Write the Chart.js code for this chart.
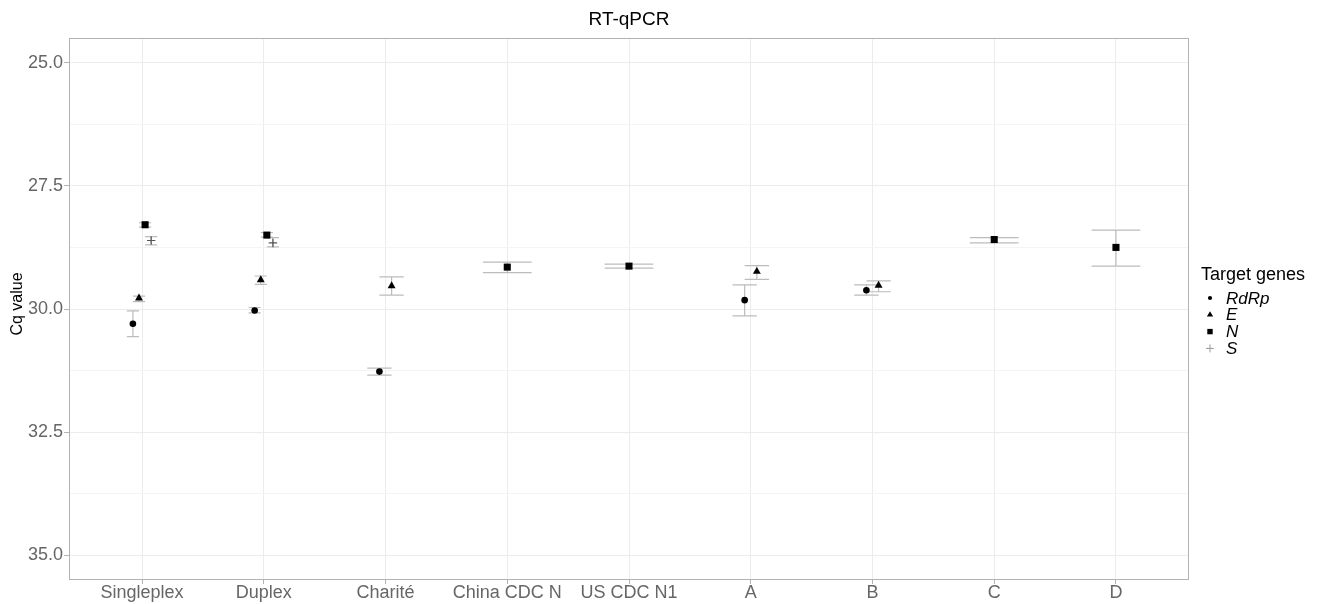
<!DOCTYPE html>
<html>
<head>
<meta charset="utf-8">
<script src="https://cdn.jsdelivr.net/npm/chart.js@4"></script>
<style>
  body { margin: 0; background: #fff; }
  #wrap { width: 1327px; height: 604px; }
</style>
</head>
<body>
<div id="wrap"><canvas id="chart" width="1327" height="604"></canvas></div>
<script>
// assays on the x axis
const categories = ['Singleplex', 'Duplex', 'Charité', 'China CDC N', 'US CDC N1', 'A', 'B', 'C', 'D'];
const genes = ['RdRp', 'E', 'N', 'S'];
const yTicks = [25, 26.25, 27.5, 28.75, 30, 31.25, 32.5, 33.75, 35];

// mean Cq and error bar ends per gene (null = not measured)
const rdrpMean = [30.30, 30.03, 31.27, null, null, 29.82, 29.62, null, null];
const rdrpLow  = [30.04, 29.97, 31.20, null, null, 29.51, 29.51, null, null];
const rdrpHigh = [30.56, 30.08, 31.34, null, null, 30.14, 29.72, null, null];

const eMean = [29.78, 29.41, 29.53, null, null, 29.24, 29.52, null, null];
const eLow  = [29.74, 29.33, 29.35, null, null, 29.12, 29.43, null, null];
const eHigh = [29.85, 29.50, 29.72, null, null, 29.40, 29.65, null, null];

const nMean = [28.29, 28.50, null, 29.15, 29.13, null, null, 28.59, 28.75];
const nLow  = [28.25, 28.45, null, 29.05, 29.09, null, null, 28.55, 28.40];
const nHigh = [28.34, 28.54, null, 29.26, 29.17, null, null, 28.66, 29.13];

const sMean = [28.61, 28.66, null, null, null, null, null, null, null];
const sLow  = [28.53, 28.55, null, null, null, null, null, null, null];
const sHigh = [28.70, 28.74, null, null, null, null, null, null, null];

const means = [rdrpMean, eMean, nMean, sMean];
const lows = [rdrpLow, eLow, nLow, sLow];
const highs = [rdrpHigh, eHigh, nHigh, sHigh];

const styles = [
    { pointStyle: 'circle', radius: 3.3, color: '#000', border: 0 },
    { pointStyle: 'triangle', radius: 4.6, color: '#000', border: 0 },
    { pointStyle: 'rect', radius: 5, color: '#000', border: 0 },
    { pointStyle: 'cross', radius: 4.2, color: '#555', border: 1.2 }
];

const DODGE = 0.2, BAR_W = 0.4;
const FONT = '"Liberation Sans", Arial, sans-serif';

// ggplot-like dodge: which genes exist at each category
function dodgeInfo(ci, gi) {
    const present = [];
    for (let g = 0; g < genes.length; g++) if (means[g][ci] !== null) present.push(g);
    const n = present.length;
    const k = present.indexOf(gi);
    return { offset: (k - (n - 1) / 2) * DODGE / n, half: BAR_W / n / 2 };
}

const datasets = genes.map((gene, gi) => {
    const pts = [];
    categories.forEach((c, ci) => {
        if (means[gi][ci] === null) return;
        const d = dodgeInfo(ci, gi);
        pts.push({ x: ci + d.offset, y: means[gi][ci], lo: lows[gi][ci], hi: highs[gi][ci], half: d.half });
    });
    const st = styles[gi];
    return {
        label: gene,
        data: pts,
        pointStyle: st.pointStyle,
        pointRadius: st.radius,
        pointHoverRadius: st.radius,
        backgroundColor: st.color,
        borderColor: st.color,
        borderWidth: st.border
    };
});

const errorBars = {
    id: 'errorBars',
    beforeDatasetsDraw(chart) {
        const ctx = chart.ctx, xs = chart.scales.x, ys = chart.scales.y;
        ctx.save();
        ctx.strokeStyle = '#bcbcbc';
        ctx.lineWidth = 1.2;
        chart.data.datasets.forEach(ds => {
            ds.data.forEach(p => {
                const x = xs.getPixelForValue(p.x);
                const x0 = xs.getPixelForValue(p.x - p.half);
                const x1 = xs.getPixelForValue(p.x + p.half);
                const y0 = ys.getPixelForValue(p.lo);
                const y1 = ys.getPixelForValue(p.hi);
                ctx.beginPath();
                ctx.moveTo(x, y0); ctx.lineTo(x, y1);
                ctx.moveTo(x0, y0); ctx.lineTo(x1, y0);
                ctx.moveTo(x0, y1); ctx.lineTo(x1, y1);
                ctx.stroke();
            });
        });
        ctx.restore();
    }
};

function drawSymbol(ctx, style, x, y, r) {
    ctx.beginPath();
    if (style === 'circle') {
        ctx.arc(x, y, r, 0, Math.PI * 2);
        ctx.fill();
    } else if (style === 'triangle') {
        ctx.moveTo(x, y - r);
        ctx.lineTo(x + r * 0.866, y + r * 0.5);
        ctx.lineTo(x - r * 0.866, y + r * 0.5);
        ctx.closePath();
        ctx.fill();
    } else if (style === 'rect') {
        ctx.rect(x - r, y - r, 2 * r, 2 * r);
        ctx.fill();
    } else {
        ctx.moveTo(x - r, y); ctx.lineTo(x + r, y);
        ctx.moveTo(x, y - r); ctx.lineTo(x, y + r);
        ctx.stroke();
    }
}

// panel border, titles and the gene legend
const frameAndLegend = {
    id: 'frameAndLegend',
    afterDraw(chart) {
        const ctx = chart.ctx, a = chart.chartArea;
        ctx.save();
        ctx.strokeStyle = '#b3b3b3';
        ctx.lineWidth = 1;
        ctx.strokeRect(a.left + 0.5, a.top + 0.5, a.right - a.left - 1, a.bottom - a.top - 1);

        ctx.fillStyle = '#000';
        ctx.textBaseline = 'alphabetic';
        ctx.textAlign = 'center';
        ctx.font = '19px ' + FONT;
        ctx.fillText('RT-qPCR', (a.left + a.right) / 2, 25);

        ctx.save();
        ctx.translate(22, 304);
        ctx.rotate(-Math.PI / 2);
        ctx.font = '16px ' + FONT;
        ctx.fillText('Cq value', 0, 0);
        ctx.restore();

        ctx.textAlign = 'left';
        ctx.font = '18px ' + FONT;
        ctx.fillText('Target genes', 1201, 280);

        const symR = [2.1, 3.6, 2.7, 4];
        genes.forEach((g, i) => {
            const y = 298 + i * 16.8;
            ctx.fillStyle = '#000';
            ctx.strokeStyle = '#999';
            ctx.lineWidth = 1;
            drawSymbol(ctx, styles[i].pointStyle, 1210, y, symR[i]);
            ctx.font = 'italic 17px ' + FONT;
            ctx.fillText(g, 1226, y + 5.5);
        });
        ctx.restore();
    }
};

const tickGrey = '#666';

new Chart(document.getElementById('chart'), {
    type: 'scatter',
    data: { datasets: datasets },
    plugins: [errorBars, frameAndLegend],
    options: {
        responsive: false,
        animation: false,
        layout: { padding: { left: 0, right: 138, top: 38, bottom: 0 } },
        plugins: {
            legend: { display: false },
            tooltip: { enabled: false },
            title: { display: false }
        },
        scales: {
            x: {
                type: 'linear',
                min: -0.6,
                max: 8.6,
                afterBuildTicks: scale => { scale.ticks = categories.map((c, i) => ({ value: i })); },
                afterFit: scale => { scale.height = 24; },
                ticks: {
                    autoSkip: false,
                    maxRotation: 0,
                    padding: -2,
                    color: tickGrey,
                    font: { family: FONT, size: 18 },
                    callback: v => categories[v]
                },
                grid: { color: '#ececec', lineWidth: 1, tickLength: 4, tickColor: '#b3b3b3' },
                border: { display: false }
            },
            y: {
                type: 'linear',
                reverse: true,
                min: 24.5,
                max: 35.5,
                afterBuildTicks: scale => { scale.ticks = yTicks.map(v => ({ value: v })); },
                afterFit: scale => { scale.width = 69; },
                ticks: {
                    padding: 1,
                    color: tickGrey,
                    font: { family: FONT, size: 18 },
                    callback: v => (v % 2.5 === 0 ? v.toFixed(1) : '')
                },
                grid: {
                    color: c => (c.tick && c.tick.value % 2.5 === 0 ? '#ececec' : '#f4f4f4'),
                    lineWidth: 1,
                    tickLength: 5,
                    tickColor: c => (c.tick && c.tick.value % 2.5 === 0 ? '#b3b3b3' : 'rgba(0,0,0,0)')
                },
                border: { display: false }
            }
        }
    }
});
</script>
</body>
</html>
